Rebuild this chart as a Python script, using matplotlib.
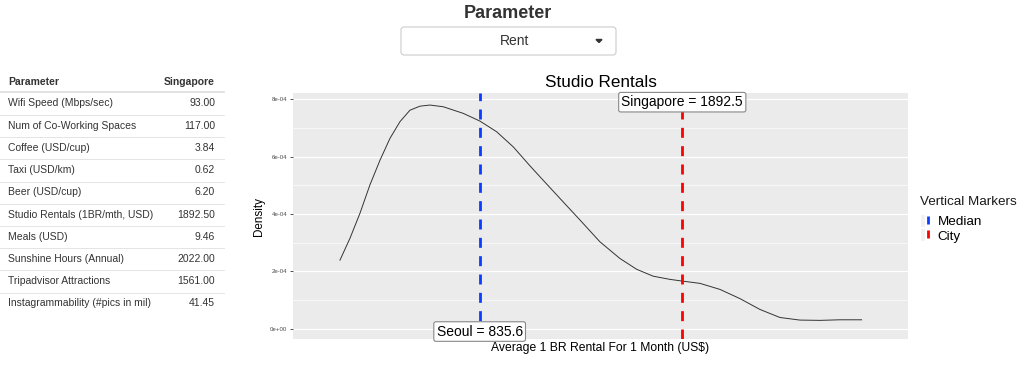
import matplotlib
matplotlib.use("Agg")
import matplotlib.pyplot as plt
from matplotlib.patches import FancyBboxPatch, Polygon, Rectangle
from matplotlib.lines import Line2D
from matplotlib.legend_handler import HandlerTuple
import numpy as np

plt.rcParams['font.family'] = ['Liberation Sans', 'DejaVu Sans']

# table data
params = ["Wifi Speed (Mbps/sec)", "Num of Co-Working Spaces", "Coffee (USD/cup)",
          "Taxi (USD/km)", "Beer (USD/cup)", "Studio Rentals (1BR/mth, USD)",
          "Meals (USD)", "Sunshine Hours (Annual)", "Tripadvisor Attractions",
          "Instagrammability (#pics in mil)"]
singapore_vals = [93.00, 117.00, 3.84, 0.62, 6.20, 1892.50, 9.46, 2022.00, 1561.00, 41.45]

# density curve of studio rentals
rent_x = [107, 159, 211, 263, 316, 368, 420, 472, 524, 576, 646, 750, 837, 924, 1011,
          1098, 1150, 1255, 1359, 1463, 1567, 1655, 1741, 1828, 1893, 1985, 2089, 2193,
          2298, 2402, 2506, 2611, 2715, 2828]
rent_density = [2.39e-4, 3.15e-4, 4.02e-4, 5.01e-4, 5.88e-4, 6.64e-4, 7.22e-4, 7.62e-4,
                7.76e-4, 7.80e-4, 7.74e-4, 7.51e-4, 7.24e-4, 6.87e-4, 6.34e-4, 5.68e-4,
                5.30e-4, 4.54e-4, 3.79e-4, 3.03e-4, 2.45e-4, 2.07e-4, 1.83e-4, 1.72e-4,
                1.66e-4, 1.58e-4, 1.37e-4, 1.05e-4, 0.67e-4, 0.39e-4, 0.30e-4, 0.29e-4,
                0.31e-4, 0.31e-4]

median_city, median_val = "Seoul", 835.6
sel_city, sel_val = "Singapore", 1892.5

fig = plt.figure(figsize=(10.24, 3.67), dpi=100)

# page layer in pixel coords
bg = fig.add_axes([0, 0, 1, 1])
bg.set_xlim(0, 1024)
bg.set_ylim(367, 0)
bg.axis('off')

bg.text(508, 13, "Parameter", ha='center', va='center', fontsize=13, fontweight='bold', color='#333333')
bg.add_patch(FancyBboxPatch((401, 27), 215, 28, boxstyle="round,pad=0,rounding_size=3",
                            fc='white', ec='#cccccc', lw=0.8))
bg.text(515, 41, "Rent", ha='center', va='center', fontsize=10, color='#333333')
bg.add_patch(Polygon([[596, 39.5], [602, 39.5], [599, 42.5]], closed=True, color='#333333'))

# table
row_y0, row_h = 103.5, 22.2
bg.text(8, 82, "Parameter", ha='left', va='center', fontsize=7.5, fontweight='bold', color='#333333')
bg.text(215, 82, "Singapore", ha='right', va='center', fontsize=7.5, fontweight='bold', color='#333333')
bg.plot([0, 224], [92.3, 92.3], color='#dddddd', lw=1.2)
for i, (name, v) in enumerate(zip(params, singapore_vals)):
    yy = row_y0 + i * row_h
    bg.text(8, yy, name, ha='left', va='center', fontsize=7.5, color='#333333')
    bg.text(215, yy, f"{v:.2f}", ha='right', va='center', fontsize=7.5, color='#333333')
    if i < len(params) - 1:
        bg.plot([0, 224], [yy + 11.5, yy + 11.5], color='#e4e4e4', lw=0.7)

# density plot
ax = fig.add_axes([293 / 1024, 1 - 339 / 367, (908 - 293) / 1024, (339 - 93) / 367])
ax.set_facecolor('#EBEBEB')
for s in ax.spines.values():
    s.set_visible(False)
ax.set_xlim(-138, 3070)
ax.set_ylim(-0.36e-4, 8.22e-4)
ax.set_yticks(np.arange(0, 9e-4, 2e-4))
ax.set_yticklabels(["0e+00", "2e-04", "4e-04", "6e-04", "8e-04"])
ax.set_yticks(np.arange(1e-4, 9e-4, 2e-4), minor=True)
ax.grid(which='major', axis='y', color='white', lw=0.9)
ax.grid(which='minor', axis='y', color='white', lw=0.45)
ax.set_axisbelow(True)
ax.tick_params(axis='y', which='major', labelsize=4.4, labelcolor='#4D4D4D', length=2.5,
               width=0.6, color='#333333', pad=1.5)
ax.tick_params(axis='y', which='minor', length=0)
ax.set_xticks([])

ax.plot(rent_x, rent_density, color='#333333', lw=0.7, solid_joinstyle='round')
ax.axvline(median_val, color='#0A3DFF', lw=2, dashes=(3.6, 3.0))
ax.axvline(sel_val, color='#FF0000', lw=2, dashes=(3.6, 3.0))

box = dict(boxstyle='round,pad=0.2,rounding_size=0.15', fc='white', ec='#888888', lw=0.8)
ax.text(median_val, -0.1e-4, f"{median_city} = {median_val}", ha='center', va='center', fontsize=10, bbox=box)
ax.text(sel_val, 7.9e-4, f"{sel_city} = {sel_val}", ha='center', va='center', fontsize=10, bbox=box)

ax.set_title("Studio Rentals", fontsize=12.3, pad=4)
ax.set_ylabel("Density", fontsize=8.4, labelpad=4)
ax.set_xlabel("Average 1 BR Rental For 1 Month (US$)", fontsize=8.75, labelpad=2)

# legend
bg.text(920, 202, "Vertical Markers", ha='left', va='center', fontsize=9.7, color='#1a1a1a')
key_bg = Rectangle((0, 0), 1, 1, fc='#F2F2F2', ec='none')
handles = [(key_bg, Line2D([], [], color='#0A3DFF', marker='|', ls='None', markersize=6, mew=2)),
           (key_bg, Line2D([], [], color='#FF0000', marker='|', ls='None', markersize=6, mew=2))]
fig.legend(handles, ["Median", "City"], loc='upper left',
           bbox_to_anchor=(921 / 1024, 1 - 215 / 367), frameon=False, fontsize=9.7,
           handlelength=0.65, handleheight=0.95, handletextpad=0.6, labelspacing=0.05,
           borderpad=0, borderaxespad=0, handler_map={tuple: HandlerTuple(ndivide=None, pad=0)})

fig.savefig("out.png", dpi=100)
